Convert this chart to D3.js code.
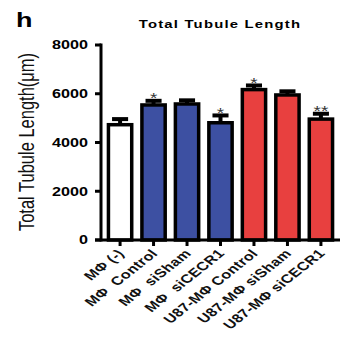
<!DOCTYPE html>
<html>
<head>
<meta charset="utf-8">
<script src="https://cdn.jsdelivr.net/npm/d3@7"></script>
<style>
  html, body { margin: 0; padding: 0; background: #fff; }
  svg { display: block; }
  text { font-family: "Liberation Sans", Arial, Helvetica, sans-serif; }
</style>
</head>
<body>
<svg id="chart" width="342" height="339"></svg>
<script>
// data
const groups = ['MΦ (-)', 'MΦ  Control', 'MΦ  siSham', 'MΦ  siCECR1',
  'U87-MΦ Control', 'U87-MΦ siSham', 'U87-MΦ siCECR1']
const means = [4730, 5540, 5580, 4810, 6170, 5950, 4960]
const sems = [230, 170, 150, 300, 170, 150, 220]
const marks = ['', '*', '', '*', '*', '', '**']
const kinds = ['none', 'mac', 'mac', 'mac', 'u87', 'u87', 'u87']
const yTicks = [0, 2000, 4000, 6000, 8000]

const fills = {none: '#ffffff', mac: '#3d50a2', u87: '#e8403f'}
// the figure is stretched sideways, text too
const sx = 1.35

const svg = d3.select('#chart')

const y = d3.scaleLinear().domain([0, 8000]).range([240, 45])
const x = d3.scaleBand()
  .domain(groups)
  .range([101, 340])
  .paddingInner(0.2)
  .paddingOuter(0.17)

// stretched text helper
function label(g, px, py, str, rot) {
  return g.append('text')
    .attr('transform', `translate(${px},${py}) scale(${sx},1) rotate(${rot || 0})`)
    .text(str)
}

// panel letter + title
label(svg, 16, 27, 'h')
  .attr('font-size', 20)
  .attr('font-weight', 'bold')
label(svg, 220, 28, 'Total Tubule Length')
  .attr('font-size', 11)
  .attr('font-weight', 'bold')
  .attr('letter-spacing', 0.9)
  .attr('text-anchor', 'middle')

// y axis title
label(svg, 34, 142, 'Total Tubule Length(μm)', -90)
  .attr('font-size', 16.5)
  .attr('fill', '#111')
  .attr('text-anchor', 'middle')

const bw = 3.5
const bars = svg.append('g')

// error bars first, bars over them
groups.forEach((d, i) => {
  const cx = x(d) + x.bandwidth() / 2,
    top = y(means[i] + sems[i]),
    capW = x.bandwidth() * 0.6
  bars.append('line')
    .attr('x1', cx).attr('x2', cx)
    .attr('y1', y(means[i])).attr('y2', top)
    .attr('stroke', '#000').attr('stroke-width', 4)
  bars.append('line')
    .attr('x1', cx - capW / 2).attr('x2', cx + capW / 2)
    .attr('y1', top).attr('y2', top)
    .attr('stroke', '#000').attr('stroke-width', 4)
  if (marks[i]) {
    label(bars, cx, top + 2.5, marks[i])
      .attr('font-size', 14)
      .attr('fill', '#333')
      .attr('text-anchor', 'middle')
  }
})

bars.selectAll('rect')
  .data(groups)
  .join('rect')
  .attr('x', d => x(d) + bw / 2)
  .attr('width', x.bandwidth() - bw)
  .attr('y', (d, i) => y(means[i]))
  .attr('height', (d, i) => y(0) - y(means[i]))
  .attr('fill', (d, i) => fills[kinds[i]])
  .attr('stroke', '#000')
  .attr('stroke-width', bw)

// axes
const axis = svg.append('g')
axis.append('line')
  .attr('x1', 101).attr('x2', 101)
  .attr('y1', y(8000) - 1.5).attr('y2', y(0) + 1.5)
  .attr('stroke', '#000').attr('stroke-width', 3)
axis.append('line')
  .attr('x1', 95).attr('x2', 340)
  .attr('y1', y(0)).attr('y2', y(0))
  .attr('stroke', '#000').attr('stroke-width', 3)

yTicks.forEach(t => {
  axis.append('line')
    .attr('x1', 95).attr('x2', 101)
    .attr('y1', y(t)).attr('y2', y(t))
    .attr('stroke', '#000').attr('stroke-width', 3)
  label(axis, 88, y(t) + 4.3, t)
    .attr('font-size', 12)
    .attr('font-weight', 'bold')
    .attr('text-anchor', 'end')
})

groups.forEach(d => {
  const cx = x(d) + x.bandwidth() / 2
  axis.append('line')
    .attr('x1', cx).attr('x2', cx)
    .attr('y1', y(0)).attr('y2', y(0) + 6)
    .attr('stroke', '#000').attr('stroke-width', 3)
  label(axis, cx + 5, 254, d, -47)
    .attr('font-size', 12)
    .attr('font-weight', 'bold')
    .attr('letter-spacing', 0.3)
    .attr('fill', '#111')
    .attr('text-anchor', 'end')
    .style('white-space', 'pre')
})
</script>
</body>
</html>
